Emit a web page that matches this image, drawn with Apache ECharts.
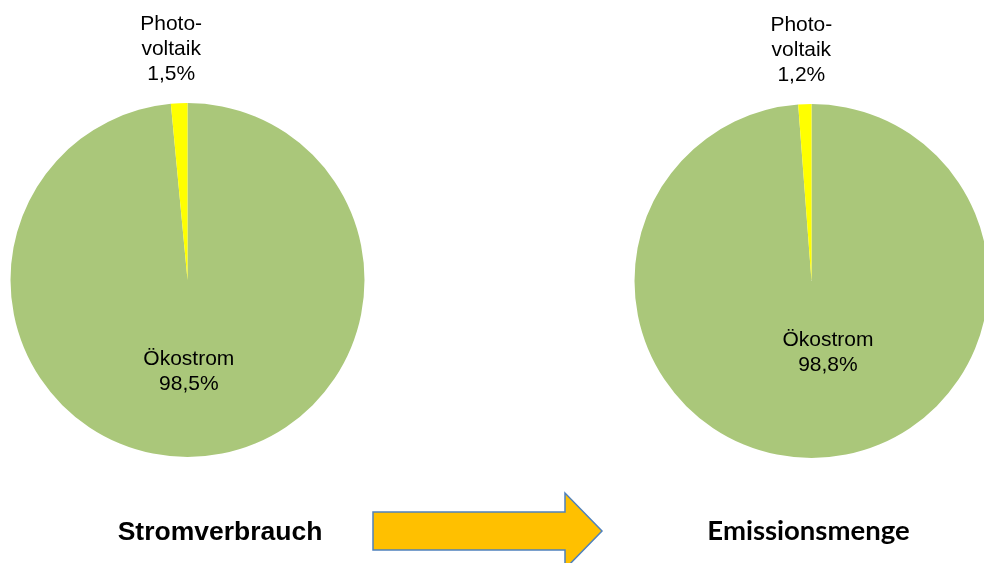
<!DOCTYPE html>
<html><head><meta charset="utf-8">
<script src="https://cdn.jsdelivr.net/npm/echarts@6/dist/echarts.min.js"></script>
<style>html,body{margin:0;padding:0;background:#fff}#c{width:984px;height:563px}</style>
</head><body><div id="c"></div>
<script>
// Data
const categories = ['Ökostrom', 'Photovoltaik'];
const categoryLabels = ['Ökostrom', 'Photo-\nvoltaik'];
const stromverbrauch = [98.5, 1.5];
const emissionsmenge = [98.8, 1.2];
const chartTitles = ['Stromverbrauch', 'Emissionsmenge'];

const colors = ['#AAC77A', '#FFFF00'];
const chart = echarts.init(document.getElementById('c'), null, {renderer: 'canvas'});

function fmt(v) { return v.toFixed(1).replace('.', ',') + '%'; }

function makeSeries(values, center, insideOffset, outsideDx) {
  return {
    type: 'pie',
    center: center,
    radius: 177,
    startAngle: 90,
    clockwise: true,
    silent: true,
    animation: false,
    label: {show: true, color: '#000', fontFamily: 'Liberation Sans', fontSize: 21, lineHeight: 25, align: 'center'},
    labelLine: {show: false},
    data: values.map((v, i) => ({
      name: categories[i],
      value: v,
      itemStyle: {color: colors[i]},
      label: i === 0
        ? {position: 'inside', offset: insideOffset, formatter: categoryLabels[i] + '\n' + fmt(v)}
        : {position: 'outside', formatter: categoryLabels[i] + '\n' + fmt(v)}
    })),
    labelLayout: function (p) {
      if (p.dataIndex === 1) {
        return {x: p.rect.x + p.rect.width / 2 + outsideDx, y: p.rect.y - 54, align: 'center', verticalAlign: 'middle'};
      }
      return {};
    }
  };
}

chart.setOption({
  backgroundColor: '#fff',
  series: [
    makeSeries(stromverbrauch, [187.5, 280], [-3, 0], -8),
    makeSeries(emissionsmenge, [811.5, 281], [13, -20], -3.5)
  ],
  graphic: [
    {type: 'text', x: 220, y: 533, style: {text: chartTitles[0], font: 'bold 26.5px "Liberation Sans"', fill: '#000', textAlign: 'center', textVerticalAlign: 'middle'}},
    {type: 'text', x: 808.5, y: 531, style: {text: chartTitles[1], font: 'bold 27.5px Lato', fill: '#000', textAlign: 'center', textVerticalAlign: 'middle'}},
    {type: 'polygon', silent: true, shape: {points: [[373, 512], [565, 512], [565, 493], [602, 531], [565, 569], [565, 550], [373, 550]]},
     style: {fill: '#FFC000', stroke: '#4F81BD', lineWidth: 1.5}}
  ]
});
</script></body></html>
